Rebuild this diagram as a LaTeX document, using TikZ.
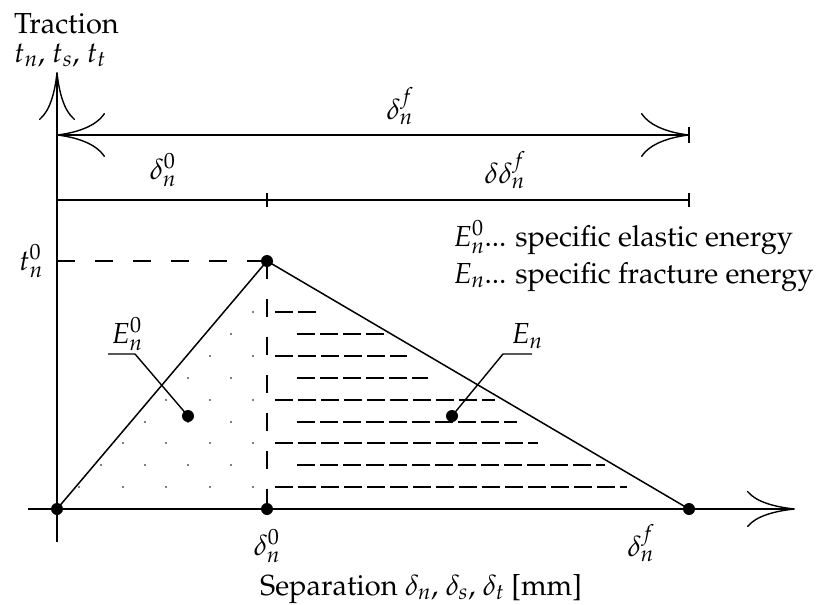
\documentclass[tikz,border=0pt]{standalone}
\usepackage[T1]{fontenc}
\usepackage{mathpazo}
\usetikzlibrary{arrows.meta}
\tikzset{bigtip/.tip={Computer Modern Rightarrow[length=48pt,width=36pt,line width=1.4pt]},
  widetip/.tip={Computer Modern Rightarrow[length=48pt,width=44pt,line width=1.4pt]}}
\begin{document}
\begin{tikzpicture}[x=1pt,y=-1pt,
  every node/.style={inner sep=0pt, font=\fontsize{29}{35}\selectfont},
  axisline/.style={line width=1.8pt},
  dimline/.style={line width=1.1pt},
  bigdot/.style={circle, fill=black, minimum size=12pt},
  smalldot/.style={circle, fill=black, minimum size=1.8pt},
  guide/.style={line width=1.4pt, dash pattern=on 18pt off 20pt},
  hatch/.style={line width=1.2pt, dash pattern=on 18pt off 5pt},
  leader/.style={line width=1.4pt},
  curve/.style={line width=1.5pt}
]
\useasboundingbox (0,0) rectangle (836,605);

% key points
\node[bigdot] (o) at (57,509) {};
\node[bigdot] (pk) at (267,261) {};
\node[bigdot] (d0) at (267,509) {};
\node[bigdot] (df) at (689,509) {};
\coordinate (xs) at (28,509);
\coordinate (xe) at (795,509);
\coordinate (ys) at (57,542);
\coordinate (ye) at (57,72);
\coordinate (ty) at (57,261);

% axes
\draw[axisline, -bigtip] (xs) -- (xe);
\draw[axisline, -bigtip] (ys) -- (ye);

% traction-separation law
\draw[curve] (o.center) -- (pk.center) -- (df.center);
\draw[guide] (ty) -- (pk.center);
\draw[guide] (pk.center) -- (d0.center);

% dimension lines
\coordinate (a1) at (57,135);
\coordinate (a2) at (689,135);
\draw[dimline, widetip-widetip] (a1) -- (a2);
\draw[dimline] (689,127) -- (689,143);
\coordinate (b1) at (57,200);
\coordinate (b2) at (689,200);
\draw[dimline] (b1) -- (b2);
\draw[dimline] (267,193) -- (267,207);
\draw[dimline] (689,193) -- (689,207);

% dotted area (elastic energy)
\foreach \px/\py in {253/487,210/487,166/487,123/487,79/487,
  231/465,188/465,145/465,101/465,
  253/443,210/443,166/443,123/443,
  231/422,188/422,145/422,
  253/400,210/400,166/400,
  231/378,188/378,
  253/356,210/356,
  231/334,
  253/312}
  \node[smalldot] at (\px,\py) {};

% hatched area (fracture energy)
\foreach \sx/\ex/\hy in {275/318/312, 297/385/334, 275/407/356, 297/428/378,
  275/495/400, 297/517/422, 275/538/443, 297/605/465, 275/627/487}
  \draw[hatch] (\sx,\hy) -- (\ex,\hy);

% labels with leaders
\node[bigdot] (e0dot) at (188,416) {};
\coordinate (e0l) at (108,354);
\coordinate (e0r) at (135,354);
\draw[leader] (e0l) -- (e0r) -- (e0dot.center);
\node (e0lab) at (127,334) {$E_n^0$};

\node[bigdot] (endot) at (452,416) {};
\coordinate (enl) at (503,354);
\coordinate (enr) at (532,354);
\draw[leader] (enr) -- (enl) -- (endot.center);
\node (enlab) at (527,336) {$E_n$};

% texts
\node[anchor=base west] (trac) at (14,33) {Traction};
\node[anchor=base west] (tvars) at (14,62) {$t_n$, $t_s$, $t_t$};
\node (t0) at (31,261) {$t_n^0$};
\node (dftop) at (400,106) {$\delta_n^f$};
\node (d0top) at (163,170) {$\delta_n^0$};
\node (ddf) at (505,170) {$\delta\delta_n^f$};
\node[anchor=base west] (leg1) at (453,246) {$E_n^0$... specific elastic energy};
\node[anchor=base west] (leg2) at (453,283) {$E_n$... specific fracture energy};
\node (d0bot) at (267,546) {$\delta_n^0$};
\node (dfbot) at (641,543) {$\delta_n^f$};
\node[anchor=base] (sep) at (421,595) {Separation $\delta_n$, $\delta_s$, $\delta_t$ [mm]};
\end{tikzpicture}
\end{document}
